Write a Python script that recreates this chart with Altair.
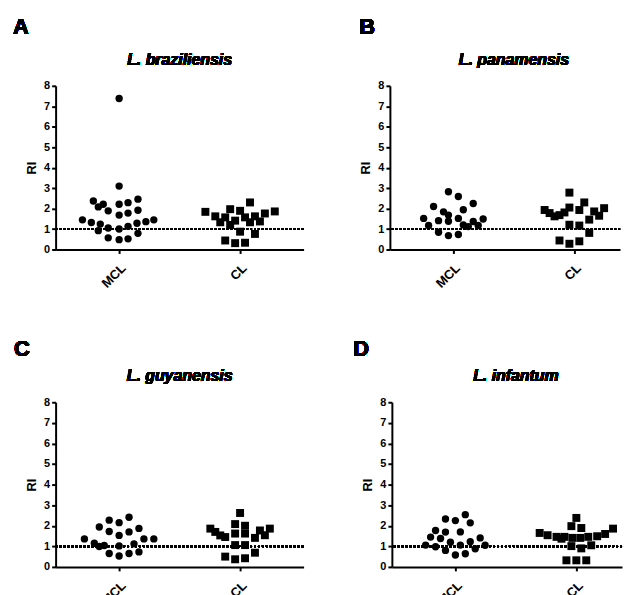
import altair as alt
import pandas as pd

GROUPS = ["MCL", "CL"]
SPECIES = ["L. braziliensis", "L. panamensis", "L. guyanensis", "L. infantum"]
LETTERS = ["A", "B", "C", "D"]
Y_TICKS = [0, 1, 2, 3, 4, 5, 6, 7, 8]
CUTOFF = 1

# RI values per group; *_jit = horizontal scatter slot
a_mcl = [7.38, 3.10, 2.37, 2.21, 2.08, 1.89, 2.21, 2.29, 2.46, 1.68, 1.78, 1.92, 1.45,
         1.32, 1.24, 1.05, 1.00, 1.13, 1.28, 1.36, 1.45, 0.92, 0.57, 0.48, 0.52, 0.79]
a_mcl_jit = [0, 0, -2.6, -1.6, -2.1, -1.1, 0, 0.9, 1.9, 0, 0.9, 1.9, -3.7,
             -2.8, -1.9, -1.1, 0, 0.9, 1.8, 2.7, 3.5, -2.1, -1.1, 0, 0.9, 1.9]
a_cl = [1.84, 1.62, 1.33, 1.57, 1.97, 1.20, 1.41, 1.89, 0.87, 1.57, 2.30, 1.33, 1.62,
        0.76, 1.37, 1.76, 1.86, 0.44, 0.31, 0.33]
a_cl_jit = [-3.5, -2.5, -2.0, -1.5, -1.0, -1.0, -0.5, 0, 0, 0.5, 1.0, 1.0, 1.5,
            1.5, 2.0, 2.5, 3.5, -1.5, -0.5, 0.5]

b_mcl = [2.82, 2.59, 2.10, 2.25, 1.84, 1.94, 1.68, 1.52, 1.41, 1.38, 1.52, 1.37, 1.49,
         1.17, 1.20, 1.12, 1.17, 0.84, 0.68, 0.73]
b_mcl_jit = [-0.5, 0.5, -2.0, 2.0, -1.0, 1.0, -0.5, -3.0, -1.5, -0.5, 0.5, 2.0, 3.0,
             -2.5, 1.0, 1.5, 2.5, -1.5, -0.5, 0.5]
b_cl = [2.78, 1.93, 1.78, 1.62, 1.68, 1.81, 2.05, 1.93, 2.30, 1.86, 1.65, 2.02, 1.21,
        1.17, 1.46, 0.81, 0.44, 0.28, 0.40]
b_cl_jit = [-0.5, -3.0, -2.5, -2.0, -1.5, -1.0, -0.5, 0.5, 1.0, 2.0, 2.5, 3.0, -0.5,
            0.5, 1.5, 1.5, -1.5, -0.5, 0.5]

c_mcl = [2.41, 2.27, 2.15, 1.94, 1.87, 1.72, 1.70, 1.53, 1.36, 1.36, 1.36, 1.15, 0.99,
         1.04, 1.02, 1.12, 0.65, 0.53, 0.65, 0.73]
c_mcl_jit = [1.0, -1.0, 0, -2.0, 2.0, -1.0, 1.0, 0, -3.5, 2.5, 3.5, -2.5, -2.0,
             -1.5, 0, 1.5, -1.0, 0, 1.0, 2.0]
c_cl = [2.62, 2.08, 2.00, 1.86, 1.70, 1.53, 1.45, 1.62, 1.62, 1.41, 1.77, 1.54, 1.86,
        1.06, 1.06, 0.69, 0.50, 0.37, 0.42]
c_cl_jit = [0, -0.5, 0.5, -3.0, -2.5, -2.0, -1.5, -0.5, 0.5, 1.5, 2.0, 2.5, 3.0,
            -0.5, 0.5, 1.5, -1.5, -0.5, 0.5]

d_mcl = [2.54, 2.33, 2.25, 2.14, 1.77, 1.69, 1.70, 1.45, 1.38, 1.41, 1.20, 1.22, 1.06,
         0.98, 1.06, 1.05, 0.88, 0.80, 0.58, 0.64]
d_mcl_jit = [1.0, -1.0, 0, 1.5, -2.0, -1.0, 0.5, -2.5, -1.5, 2.5, -0.5, 1.5, -3.0,
             -2.0, 0.5, 3.0, 2.0, -1.0, 0, 1.0]
d_cl = [2.38, 1.98, 1.89, 1.65, 1.54, 1.46, 1.37, 1.46, 1.41, 1.41, 1.46, 1.49, 1.60,
        1.86, 1.01, 0.90, 1.05, 0.32, 0.32, 0.32]
d_cl_jit = [0, -0.5, 0.5, -3.7, -2.9, -2.0, -1.5, -1.2, -0.4, 0.4, 1.2, 2.1, 2.9,
            3.7, -0.5, 0.5, 1.5, -1.0, 0, 1.0]

FONT = "Liberation Sans"
SLOT = 10 / 122.0  # one scatter slot in category units
PX_PER_UNIT = 121.95


def make_df(mcl, mcl_j, cl, cl_j):
    rows = []
    for g, vals, jits in (("MCL", mcl, mcl_j), ("CL", cl, cl_j)):
        for v, j in zip(vals, jits):
            rows.append({"group": g, "ri": v, "pos": GROUPS.index(g) + 1 + j * SLOT})
    return pd.DataFrame(rows)


def panel(df, species, letter, width, height, letter_dx, letter_dy):
    x_hi = 0.475 + width / PX_PER_UNIT
    base = alt.Chart(df)
    y_scale = alt.Scale(domain=[0, 8], nice=False)
    y_axis = alt.Axis(values=Y_TICKS, title="RI", grid=False, titlePadding=5,
                      labelOverlap=False, labelFlush=False)
    x_enc = alt.X("pos:Q", scale=alt.Scale(domain=[0.475, x_hi], nice=False, zero=False),
                  axis=alt.Axis(values=[1, 2], title=None, grid=False,
                                labelExpr="datum.value == 1 ? 'MCL' : 'CL'",
                                labelAngle=-45, labelPadding=8, labelFontSize=13))
    y_enc = alt.Y("ri:Q", scale=y_scale, axis=y_axis)
    pts = base.mark_point(filled=True, opacity=1, color="black", strokeWidth=0).encode(
        x=x_enc, y=y_enc,
        shape=alt.Shape("group:N", scale=alt.Scale(domain=GROUPS, range=["circle", "square"]), legend=None),
        size=alt.Size("group:N", scale=alt.Scale(domain=GROUPS, range=[55, 64]), legend=None),
    )
    rule = base.mark_rule(color="black", strokeWidth=2, strokeDash=[2, 2]).encode(
        y=alt.YDatum(CUTOFF, scale=y_scale, axis=y_axis))
    let = base.mark_text(text=letter, font=FONT, fontSize=22, fontWeight="bold",
                         align="left", baseline="alphabetic", color="black").encode(
        x=alt.value(letter_dx), y=alt.value(letter_dy))
    ttl = base.mark_text(text=species, font=FONT, fontSize=16, fontWeight="bold",
                         fontStyle="italic", align="center", baseline="alphabetic",
                         color="black").encode(
        x=alt.value(125), y=alt.value(-21))
    return alt.layer(pts, rule, let, ttl).properties(width=width, height=height)


dfa = make_df(a_mcl, a_mcl_jit, a_cl, a_cl_jit)
dfb = make_df(b_mcl, b_mcl_jit, b_cl, b_cl_jit)
dfc = make_df(c_mcl, c_mcl_jit, c_cl, c_cl_jit)
dfd = make_df(d_mcl, d_mcl_jit, d_cl, d_cl_jit)

pa = panel(dfa, SPECIES[0], LETTERS[0], 250, 165, -43, -52)
pb = panel(dfb, SPECIES[1], LETTERS[1], 232, 165, -31, -52)
pc = panel(dfc, SPECIES[2], LETTERS[2], 250, 166, -42, -47)
pd_ = panel(dfd, SPECIES[3], LETTERS[3], 232, 166, -39, -47)

chart = alt.vconcat(
    alt.hconcat(pa, pb, spacing=55),
    alt.hconcat(pc, pd_, spacing=49),
    spacing=47,
).properties(
    padding={"left": 5, "top": 6, "right": 0, "bottom": 0}
).configure_view(stroke=None).configure_axis(
    domainColor="black", domainWidth=2, tickColor="black", tickWidth=2, tickSize=4,
    labelFont=FONT, labelFontWeight="bold", labelFontSize=11, labelColor="black",
    titleFont=FONT, titleFontWeight="bold", titleFontSize=13, titleColor="black",
    labelPadding=2
)

chart.save("out.html", embed_options={"renderer": "svg", "actions": False})
